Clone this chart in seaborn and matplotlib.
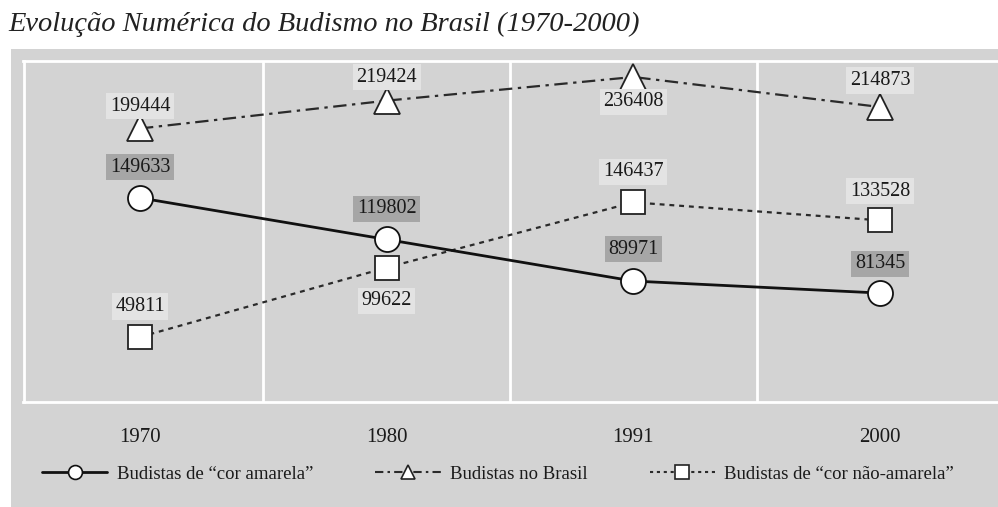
import matplotlib
matplotlib.use("Agg")
import matplotlib.pyplot as plt
import seaborn as sns
import pandas as pd
from matplotlib.lines import Line2D
from matplotlib.patches import Rectangle

# ---- data ----
anos = ["1970", "1980", "1991", "2000"]
amarela = [149633, 119802, 89971, 81345]
brasil = [199444, 219424, 236408, 214873]
nao_amarela = [49811, 99622, 146437, 133528]
nomes = ['Budistas de “cor amarela”', 'Budistas no Brasil', 'Budistas de “cor não-amarela”']
titulo = "Evolução Numérica do Budismo no Brasil (1970-2000)"

sns.set_style("white")
plt.rcParams['font.family'] = ['Liberation Serif', 'DejaVu Serif']

W, H = 998, 507
fig = plt.figure(figsize=(W / 100, H / 100), dpi=100)
fig.patch.set_facecolor("white")

BG = "#d3d3d3"
fig.add_artist(Rectangle((11 / W, 0), 1 - 11 / W, 1 - 49 / H, transform=fig.transFigure,
                         facecolor=BG, edgecolor="none", zorder=0))

ax_l, ax_r, ax_t, ax_b = 23.5, 1006, 60.5, 402
ax = fig.add_axes([ax_l / W, 1 - ax_b / H, (ax_r - ax_l) / W, (ax_b - ax_t) / H])
ax.set_facecolor(BG)
for s in ax.spines.values():
    s.set_color("white")
    s.set_linewidth(2.0)

pos = list(range(len(anos)))
scale = (880 - 140) / 3
ax.set_xlim(-(140 - ax_l) / scale, 3 + (ax_r - 880) / scale)
k = 0.0013934
y0 = 406.4
ax.set_ylim((y0 - ax_b) / k, (y0 - ax_t) / k)

for xv in [0.5, 1.5, 2.5]:
    ax.axvline(xv, color="white", lw=2.0, zorder=1)

df_a = pd.DataFrame({"x": pos, "v": amarela})
df_b = pd.DataFrame({"x": pos, "v": brasil})
df_n = pd.DataFrame({"x": pos, "v": nao_amarela})

sns.lineplot(data=df_n, x="x", y="v", ax=ax, color="#2a2a2a", lw=1.6,
             linestyle=(0, (2.2, 2.2)), marker="s", markersize=17,
             markerfacecolor="white", markeredgecolor="#222", markeredgewidth=1.3, zorder=3)
sns.lineplot(data=df_b, x="x", y="v", ax=ax, color="#2a2a2a", lw=1.6,
             linestyle=(0, (6, 2.5, 1.5, 2.5)), marker="^", markersize=19,
             markerfacecolor="white", markeredgecolor="#222", markeredgewidth=1.3, zorder=3)
sns.lineplot(data=df_a, x="x", y="v", ax=ax, color="#111111", lw=2.0,
             linestyle="-", marker="o", markersize=18,
             markerfacecolor="white", markeredgecolor="#111", markeredgewidth=1.3, zorder=4)

# label offsets in points (vertical, positive = up)
off_a = [22, 22, 23, 21]
off_b = [16, 17, -18, 19]
off_n = [22, -24, 22, 21]

def labels(vals, offs, fc):
    for x, v, o in zip(pos, vals, offs):
        ax.annotate(f"{v}", (x, v), xytext=(0, o), textcoords="offset points",
                    ha="center", va="center", fontsize=14.5, color="#1a1a1a", zorder=6,
                    bbox=dict(boxstyle="square,pad=0.18", fc=fc, ec="none"))

labels(amarela, off_a, "#a6a6a6")
labels(brasil, off_b, "#e3e3e3")
labels(nao_amarela, off_n, "#e3e3e3")

ax.set_xticks(pos)
ax.set_xticklabels(anos, fontsize=15, color="#1a1a1a")
ax.set_yticks([])
ax.tick_params(axis="x", length=0, pad=19)
ax.set_xlabel("")
ax.set_ylabel("")
if ax.get_legend():
    ax.get_legend().remove()

h1 = Line2D([], [], color="#111", lw=2.0, marker="o", markersize=10,
            markerfacecolor="white", markeredgecolor="#111", markeredgewidth=1.2)
h2 = Line2D([], [], color="#2a2a2a", lw=1.5, linestyle=(0, (4, 2, 1.2, 2)), marker="^",
            markersize=10, markerfacecolor="white", markeredgecolor="#222", markeredgewidth=1.2)
h3 = Line2D([], [], color="#2a2a2a", lw=1.5, linestyle=(0, (1.5, 1.8)), marker="s",
            markersize=10, markerfacecolor="white", markeredgecolor="#222", markeredgewidth=1.2)
fig.legend([h1, h2, h3], nomes, loc="center", bbox_to_anchor=(498 / W, 1 - 474 / H),
           ncol=3, frameon=False, fontsize=13.5, handlelength=3.5, handletextpad=0.5,
           columnspacing=3.3, labelcolor="#1a1a1a")

fig.text(8 / W, 1 - 24 / H, titulo, fontsize=20.5, style="italic", ha="left", va="center",
         color="#222")

fig.savefig("out.png", dpi=100, facecolor="white")
